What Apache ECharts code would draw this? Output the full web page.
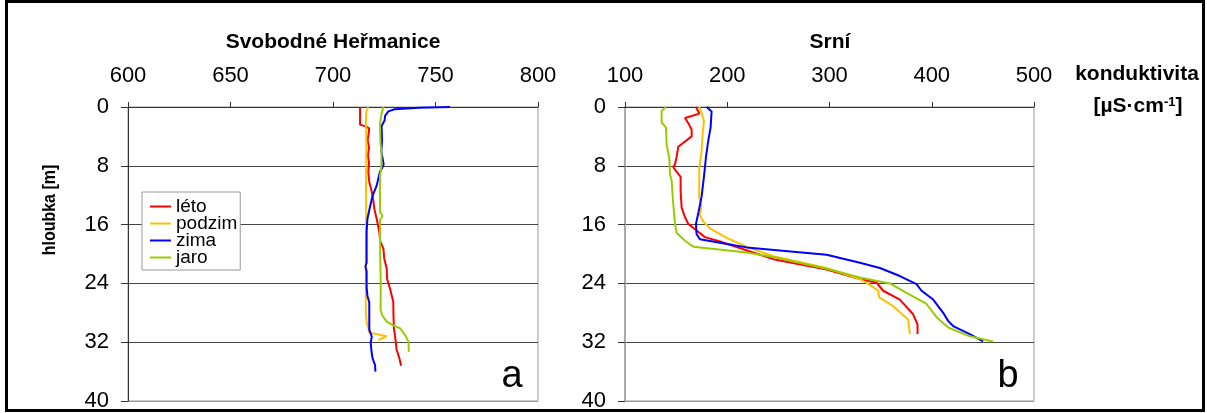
<!DOCTYPE html>
<html>
<head>
<meta charset="utf-8">
<script src="https://cdn.jsdelivr.net/npm/echarts@6/dist/echarts.min.js"></script>
<style>
  html, body { margin: 0; padding: 0; background: #fff; }
  #chart { width: 1207px; height: 413px; }
</style>
</head>
<body>
<div id="chart"></div>
<script>
// Conductivity profiles [conductivity µS/cm, depth m] for two lakes, four seasons.
const seasons = ['léto', 'podzim', 'zima', 'jaro'];
const seasonColors = ['#FF0000', '#FFC000', '#0000FF', '#99CC00'];

// Svobodné Heřmanice
const shLeto = [[713.2,0],[713.2,2.4],[715.6,2.6],[717.7,2.9],[717.5,3.4],[716.9,4.5],[717.6,5.5],[717.0,6.6],[717.6,7.6],[717.2,8.8],[717.7,10.2],[718.9,11.5],[719.7,12.8],[720.2,13.9],[721.3,15.2],[722.6,17.0],[723.0,18.2],[724.6,19.3],[725.0,20.6],[726.2,22.0],[726.4,23.4],[727.8,24.7],[729.4,26.5],[729.5,28.4],[729.7,30.1],[730.6,31.9],[731.0,33.0],[732.4,34.2],[733.2,35.2]];
const shPodzim = [[717.2,0],[716.2,0.6],[716.1,2.0],[716.3,6.0],[716.1,10.0],[716.2,15.0],[716.0,20.0],[716.0,25.0],[716.0,28.0],[716.6,29.6],[717.4,30.2],[717.6,30.7],[726.2,31.2],[722.1,31.7]];
const shZima = [[757.1,0],[742.0,0.1],[730.0,0.3],[727.0,0.6],[725.4,1.2],[725.2,1.8],[723.7,2.6],[723.9,4.5],[723.6,6.0],[724.7,7.8],[724.0,8.3],[722.9,8.8],[721.3,10.7],[719.3,12.1],[718.1,13.5],[716.8,15.2],[716.4,17.0],[716.4,21.2],[715.8,21.7],[716.4,22.3],[716.4,24.5],[716.8,25.7],[717.7,26.6],[717.7,30.3],[718.9,31.2],[718.4,32.1],[718.8,33.3],[719.3,34.2],[720.5,35.1],[720.7,36.0]];
const shJaro = [[724.6,0],[723.7,0.9],[722.9,2.3],[723.2,5.1],[723.7,6.2],[723.6,8.2],[722.9,9.4],[722.9,14.3],[724.2,14.8],[722.9,15.4],[723.0,20.0],[723.3,24.0],[723.2,27.5],[723.9,28.3],[726.2,29.2],[729.4,29.7],[732.7,30.1],[735.1,31.0],[736.8,31.9],[737.0,33.3]];

// Srní
const srLeto = [[169.4,0],[172.7,0.9],[158.7,1.5],[161.9,2.2],[165.2,3.1],[165.2,4.0],[152.1,5.4],[150.5,6.8],[148.9,7.8],[147.2,8.2],[149.8,8.7],[154.4,9.5],[154.4,11.4],[155.4,13.7],[158.7,15.0],[161.9,15.9],[170.0,16.8],[178.2,17.7],[192.9,18.3],[225.4,19.8],[245.0,20.7],[297.2,22.1],[329.7,23.4],[346.0,23.9],[352.5,25.0],[368.8,26.2],[381.8,28.2],[386.1,29.6],[386.1,30.9]];
const srPodzim = [[172.6,0],[174.9,0.8],[177.2,1.9],[175.9,3.7],[174.9,6.0],[172.6,8.3],[172.6,12.4],[174.9,13.3],[173.3,14.7],[176.6,15.6],[183.1,16.5],[199.4,17.8],[219.0,19.0],[245.0,20.3],[297.2,21.9],[329.7,23.4],[339.5,24.2],[347.6,25.0],[348.6,25.9],[362.3,27.1],[376.9,28.9],[378.6,30.9]];
const srZima = [[179.8,0],[184.7,0.6],[183.7,2.8],[181.4,4.6],[179.2,6.8],[177.2,9.5],[174.9,12.2],[171.6,14.5],[169.4,15.9],[170.0,17.3],[173.3,18.0],[202.6,18.7],[219.0,19.1],[297.2,20.1],[329.7,21.2],[349.3,21.9],[368.8,23.0],[385.1,24.1],[390.0,25.0],[401.4,26.2],[411.2,28.0],[416.0,29.1],[420.9,29.8],[437.2,30.9],[450.2,31.9]];
const srJaro = [[140.1,0],[135.8,0.5],[135.8,2.1],[140.1,2.8],[140.7,5.1],[143.3,6.9],[144.0,9.1],[145.6,10.0],[147.2,13.2],[148.9,15.9],[150.5,17.1],[158.7,18.2],[166.8,19.0],[219.0,19.8],[245.0,20.4],[297.2,22.0],[329.7,23.2],[359.0,24.0],[375.4,25.3],[394.9,26.8],[404.7,28.6],[416.0,30.0],[437.2,31.2],[460.0,31.9]];

const depthTicks = { min: 0, max: 40, interval: 8 };
const shRange = { min: 600, max: 800, interval: 50 };
const srRange = { min: 100, max: 500, interval: 100 };

const FONT = 'Liberation Sans, Arial, sans-serif';
const chart = echarts.init(document.getElementById('chart'));

function xAxisFor(range, gridIndex) {
  return {
    type: 'value', gridIndex, position: 'top',
    min: range.min, max: range.max, interval: range.interval,
    axisLine: { show: true, lineStyle: { color: '#333', width: 1 } },
    axisTick: { show: true, inside: false, length: 5, lineStyle: { color: '#333' } },
    axisLabel: { fontFamily: FONT, fontSize: 22, color: '#000', margin: 20 },
    splitLine: { show: false }
  };
}
function yAxisFor(gridIndex, axisColor, axisWidth) {
  return {
    type: 'value', gridIndex, inverse: true,
    min: depthTicks.min, max: depthTicks.max, interval: depthTicks.interval,
    axisLine: { show: true, lineStyle: { color: axisColor, width: axisWidth } },
    axisTick: { show: true, length: 7, lineStyle: { color: '#333' } },
    axisLabel: { fontFamily: FONT, fontSize: 22, color: '#000', margin: 19 },
    splitLine: { show: true, lineStyle: { color: ['#444','#444','#444','#444','#444','#999'], width: 1 } }
  };
}
function lineSeries(name, data, idx, color) {
  return {
    name, type: 'line', data, xAxisIndex: idx, yAxisIndex: idx,
    showSymbol: false, symbol: 'none', smooth: false,
    lineStyle: { color, width: 2 }, itemStyle: { color },
    silent: true
  };
}

const shSets = [shLeto, shPodzim, shZima, shJaro];
const srSets = [srLeto, srPodzim, srZima, srJaro];
const series = [];
seasons.forEach((s, i) => series.push(lineSeries(s, shSets[i], 0, seasonColors[i])));
seasons.forEach((s, i) => series.push(lineSeries(s, srSets[i], 1, seasonColors[i])));

chart.setOption({
  animation: false,
  backgroundColor: '#fff',
  grid: [
    { left: 128, top: 107, width: 410, height: 294, show: true, borderColor: '#999', borderWidth: 1, backgroundColor: 'transparent' },
    { left: 625, top: 107, width: 409, height: 294, show: true, borderColor: '#999', borderWidth: 1, backgroundColor: 'transparent' }
  ],
  xAxis: [xAxisFor(shRange, 0), xAxisFor(srRange, 1)],
  yAxis: [yAxisFor(0, '#333', 1), yAxisFor(1, '#aaa', 2)],
  legend: {
    data: seasons, orient: 'vertical', left: 142, top: 192,
    icon: 'rect', itemWidth: 21, itemHeight: 2, itemGap: -2, itemTextGap: 4,
    padding: [5, 3, 3, 8],
    borderColor: '#999', borderWidth: 1, backgroundColor: '#fff',
    textStyle: { fontFamily: FONT, fontSize: 19, color: '#000' }
  },
  series,
  graphic: [
    { type: 'rect', shape: { x: 6.5, y: 1.5, width: 1197, height: 409 }, style: { fill: 'none', stroke: '#000', lineWidth: 3 }, silent: true },
    { type: 'text', x: 333, y: 42, style: { text: 'Svobodné Heřmanice', font: 'bold 21px ' + FONT, fill: '#000', textAlign: 'center', textVerticalAlign: 'middle' } },
    { type: 'text', x: 830, y: 42, style: { text: 'Srní', font: 'bold 21px ' + FONT, fill: '#000', textAlign: 'center', textVerticalAlign: 'middle' } },
    { type: 'text', x: 1137, y: 74, style: { text: 'konduktivita', font: 'bold 21px ' + FONT, fill: '#000', textAlign: 'center', textVerticalAlign: 'middle' } },
    { type: 'text', x: 1138, y: 106, style: {
        text: '[µS·cm{sup|-1}]', font: 'bold 21px ' + FONT, fill: '#000', textAlign: 'center', textVerticalAlign: 'middle',
        rich: { sup: { font: 'bold 13px ' + FONT, fill: '#000', verticalAlign: 'top', padding: [0, 0, 8, 0] } }
      } },
    { type: 'text', x: 50, y: 210, rotation: Math.PI / 2, scaleY: 1.12, style: { text: 'hloubka [m]', font: 'bold 16px ' + FONT, fill: '#000', textAlign: 'center', textVerticalAlign: 'middle' } },
    { type: 'text', x: 512, y: 377, style: { text: 'a', font: '38px ' + FONT, fill: '#000', textAlign: 'center', textVerticalAlign: 'middle' } },
    { type: 'text', x: 1008, y: 377, style: { text: 'b', font: '38px ' + FONT, fill: '#000', textAlign: 'center', textVerticalAlign: 'middle' } }
  ]
});
</script>
</body>
</html>
